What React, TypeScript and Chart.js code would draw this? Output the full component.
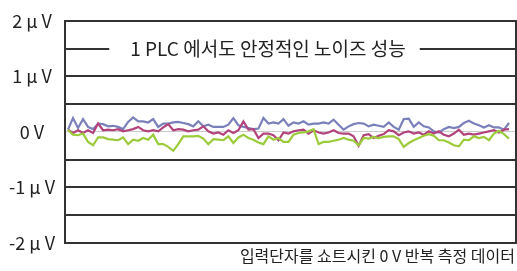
import React, { useEffect, useRef } from "react";
import { Chart, registerables } from "chart.js";

Chart.register(...registerables);

const titleText = "1 PLC 에서도 안정적인 노이즈 성능";
const noteText = "입력단자를 쇼트시킨 0 V 반복 측정 데이터";
const yTickValues = [-2, -1, 0, 1, 2];
const yTickLabels = ["-2 µ V", "-1 µ V", "0 V", "1 µ V", "2 µ V"];
const seriesNames = ["A", "B", "C"];

const blueSeries = [
  0.04, 0.25, 0.07, 0.23, 0.09, 0.05, 0.15, 0.14, 0.1, 0.11,
  0.09, 0.05, 0.18, 0.26, 0.19, 0.19, 0.17, 0.23, 0.09, 0.15,
  0.15, 0.17, 0.18, 0.16, 0.14, 0.1, 0.19, 0.1, 0.13, 0.09,
  0.09, 0.09, 0.13, 0.25, 0.12, 0.09, 0.07, 0.05, 0.06, 0.25,
  0.15, 0.17, 0.15, 0.23, 0.11, 0.17, 0.15, 0.19, 0.13, 0.15,
  0.15, 0.17, 0.15, 0.22, 0.13, 0.04, 0.1, 0.14, 0.16, 0.15,
  0.1, 0.13, 0.11, 0.09, 0.17, 0.09, 0.04, 0.23, 0.24, 0.09,
  0.17, 0.1, 0.08, 0.01, -0.01, 0.05, 0.09, 0.07, 0.09, 0.16,
  0.2, 0.15, 0.12, 0.08, 0.12, 0.08, 0.08, 0.04, 0.16,
];

const pinkSeries = [
  0.04, -0.02, 0.03, -0.02, 0.03, -0.02, 0.15, 0.03, 0.04, 0.03,
  0.05, 0.01, 0.03, 0.05, 0.09, 0.03, 0.01, 0.03, 0.01, 0.08,
  0.14, 0.03, 0.05, 0.04, 0.01, 0.03, 0.04, 0.1, 0.01, -0.03,
  -0.01, -0.05, 0.03, -0.02, 0.03, 0.19, 0.04, 0.05, -0.11, -0.03,
  -0.03, -0.06, -0.15, -0.01, -0.03, 0.01, 0.03, 0.04, -0.03, 0.03,
  -0.01, -0.03, -0.01, 0.03, -0.02, -0.03, -0.03, -0.08, -0.25, -0.06,
  -0.04, -0.11, -0.07, -0.04, 0.03, 0.01, -0.06, -0.01, 0.01, -0.03,
  -0.01, -0.05, 0.01, -0.03, 0.01, -0.05, -0.08, -0.03, 0.04, -0.05,
  -0.03, -0.05, -0.03, -0.01, 0.01, 0.03, -0.01, 0.04, 0.05,
];

const greenSeries = [
  0.04, -0.05, -0.06, -0.03, -0.18, -0.24, -0.1, -0.1, -0.13, -0.14,
  -0.15, -0.1, -0.22, -0.14, -0.16, -0.11, -0.14, -0.05, -0.22, -0.22,
  -0.27, -0.34, -0.22, -0.08, -0.08, -0.08, -0.07, -0.12, -0.22, -0.13,
  -0.14, -0.15, -0.08, -0.2, -0.1, -0.05, -0.11, -0.14, -0.19, -0.22,
  -0.08, -0.14, -0.11, -0.18, -0.18, -0.05, -0.02, -0.01, 0.01, 0.05,
  -0.22, -0.18, -0.18, -0.16, -0.14, -0.11, -0.14, -0.16, -0.24, -0.11,
  -0.12, -0.09, -0.11, -0.09, -0.08, -0.08, -0.13, -0.27, -0.2, -0.15,
  -0.11, -0.07, -0.04, -0.07, -0.15, -0.15, -0.19, -0.24, -0.26, -0.14,
  -0.15, -0.08, -0.11, -0.09, -0.15, -0.03, 0.02, -0.04, -0.12,
];

const FONT = "'Noto Sans CJK KR', 'Noto Sans', sans-serif";

const overlayPlugin = {
  id: "overlay",
  afterDraw(chart: any) {
    const { ctx, chartArea } = chart;
    const y = chart.scales.y;
    ctx.save();
    ctx.strokeStyle = "#333";
    ctx.lineWidth = 2;
    ctx.beginPath();
    ctx.moveTo(chartArea.right - 1, chartArea.top);
    ctx.lineTo(chartArea.right - 1, chartArea.bottom);
    ctx.stroke();
    ctx.font = `19px ${FONT}`;
    const w = ctx.measureText(titleText).width;
    const cx = 268;
    const ty = y.getPixelForValue(1.5);
    ctx.fillStyle = "#fff";
    ctx.fillRect(cx - w / 2 - 21, ty - 4, w + 35, 8);
    ctx.fillStyle = "#222";
    ctx.textAlign = "center";
    ctx.textBaseline = "middle";
    ctx.fillText(titleText, cx, ty);
    ctx.font = `16px ${FONT}`;
    ctx.textAlign = "right";
    ctx.fillText(noteText, chart.width - 2, chartArea.bottom + 13);
    ctx.restore();
  },
};

export default function App() {
  const ref = useRef<HTMLCanvasElement>(null);
  useEffect(() => {
    document.body.style.margin = "0";
    const toPts = (arr: number[]) => arr.map((v, i) => ({ x: i, y: v }));
    const chart = new Chart(ref.current!, {
      type: "line",
      data: {
        datasets: [
          { label: seriesNames[2], data: toPts(greenSeries), borderColor: "#9bcb3b" },
          { label: seriesNames[1], data: toPts(pinkSeries), borderColor: "#b3437d" },
          { label: seriesNames[0], data: toPts(blueSeries), borderColor: "#7a80b9" },
        ].map((d) => ({ ...d, borderWidth: 2.2, pointRadius: 0, tension: 0, fill: false })),
      },
      options: {
        animation: false,
        responsive: false,
        maintainAspectRatio: false,
        layout: { padding: { top: 16, bottom: 28, right: 0, left: 0 } },
        plugins: { legend: { display: false }, tooltip: { enabled: false } },
        scales: {
          x: {
            type: "linear",
            display: false,
            min: -0.6,
            max: blueSeries.length + 0.6,
          },
          y: {
            min: -2,
            max: 2,
            afterFit(scale: any) {
              scale.width = 65;
            },
            afterBuildTicks(scale: any) {
              scale.ticks = [-2, -1.5, -1, -0.5, 0, 0.5, 1, 1.5, 2].map((v) => ({ value: v }));
            },
            ticks: {
              padding: 10,
              crossAlign: "center",
              color: "#222",
              font: { family: FONT, size: 18 },
              callback: (v: any) => {
                const i = yTickValues.indexOf(Number(v));
                return i >= 0 ? yTickLabels[i] : "";
              },
            },
            grid: {
              drawTicks: false,
              color: (c: any) => (c.tick && c.tick.value === 0 ? "#cccccc" : "#333"),
              lineWidth: (c: any) => (c.tick && c.tick.value === 0 ? 1 : 2),
            },
            border: { display: true, color: "#333", width: 2 },
          },
        },
      },
      plugins: [overlayPlugin],
    });
    return () => chart.destroy();
  }, []);
  return (
    <div style={{ width: 517, height: 271 }}>
      <canvas ref={ref} width={517} height={271} style={{ display: "block" }} />
    </div>
  );
}
